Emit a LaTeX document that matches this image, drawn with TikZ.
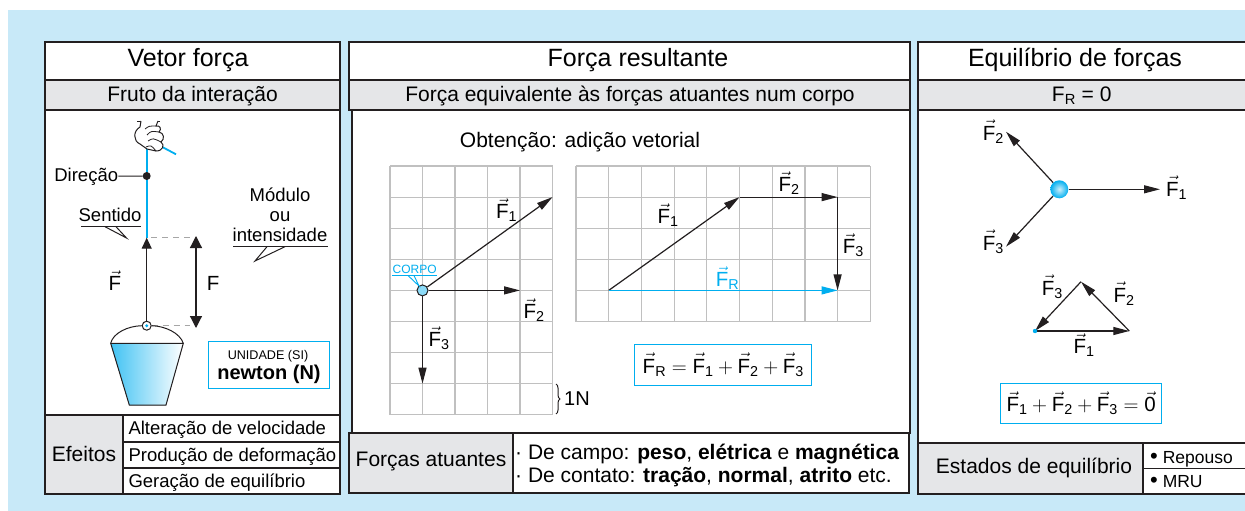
\documentclass[tikz,border=0pt]{standalone}
\usepackage{amsmath}
\usepackage{fontspec}
\setmainfont{Liberation Sans}
\usetikzlibrary{arrows.meta,decorations.pathreplacing}

\definecolor{fundo}{RGB}{200,233,248}
\definecolor{ciano}{RGB}{0,174,239}
\definecolor{cinza}{RGB}{229,230,232}
\definecolor{grade}{RGB}{192,192,192}
\definecolor{traco}{RGB}{35,31,32}

\newcommand{\vF}[1]{$\vec{\text{F}}_{\text{#1}}$}

\tikzset{
	moldura/.style={draw=traco, line width=1.3pt},
	titulo/.style={font=\fontsize{25}{30}\selectfont, anchor=base},
	faixa/.style={font=\fontsize{21}{25}\selectfont},
	rotulo/.style={font=\fontsize{18.5}{20}\selectfont},
	vrot/.style={font=\fontsize{20.5}{24}\selectfont, anchor=base west, inner sep=0pt},
	vetor/.style={draw=traco, line width=1.2pt, -{Triangle[length=16pt,width=8pt]}},
	linhagrade/.style={draw=grade, line width=1.2pt},
	tracejado/.style={draw=gray!70, line width=1pt, dash pattern=on 6pt off 5pt},
	caixa/.style={draw=ciano, line width=1.3pt, inner sep=0pt},
}

\begin{document}
\begin{tikzpicture}[x=1pt, y=-1pt]
	\useasboundingbox (0,0) rectangle (1245,511);
	\fill[fundo] (8,10) rectangle (1245,511);

	\draw[moldura, fill=white] (45,42) rectangle (340,80);
	\draw[moldura, fill=cinza] (45,80) rectangle (340,110);
	\draw[moldura, fill=white] (45,110) rectangle (340,415);
	\draw[moldura, fill=cinza] (45,415) rectangle (123,494);
	\draw[moldura, fill=white] (123,415) rectangle (340,442);
	\draw[moldura, fill=white] (123,442) rectangle (340,468);
	\draw[moldura, fill=white] (123,468) rectangle (340,494);
	\node[titulo] (tvetor) at (188,66.7) {Vetor força};
	\node[faixa, anchor=base] (fruto) at (192.5,101.7) {Fruto da interação};

	\draw[ciano, line width=1.8pt] (146.7,140) -- (146.7,237.7);
	\draw[ciano, line width=1.8pt] (161.7,146.7) -- (176,154.3);
	\draw[traco, line width=1pt] (137,121) -- (160,121);
	\draw[traco, line width=1pt, fill=white] (141,121) -- (140,127) .. controls (133,131) and (133,141) .. (140,144) -- (147,149) -- (156,151) .. controls (163,151) and (165,145) .. (161,142) .. controls (165,139) and (164,133) .. (159,132) .. controls (162,129) and (160,125) .. (156,126) -- (158,121);
	\draw[traco, line width=0.8pt] (147,135) .. controls (151,131) .. (159,132);
	\draw[traco, line width=0.8pt] (148,141) .. controls (153,138) .. (161,142);
	\draw[traco, line width=0.8pt] (146,147) .. controls (151,145) .. (156,151);
	\draw[traco, line width=0.8pt] (145,129) .. controls (149,126) .. (156,126);

	\node[circle, fill=traco, inner sep=0pt, minimum size=8pt] (ponto) at (146.7,176) {};
	\node[rotulo, anchor=base east, inner sep=0pt] (direcao) at (118.3,181) {Direção};
	\draw[traco, line width=1pt] (direcao) -- (ponto);

	\node[rotulo, anchor=base] (sentido) at (110,221.7) {Sentido};
	\draw[traco, line width=1pt] (81,226.7) -- (141,226.7);
	\draw[traco, line width=1pt] (105,226.7) -- (126.5,238) -- (116,226.7);

	\node[rotulo, align=center, anchor=south, inner sep=0pt] (modulo) at (280,241.7) {Módulo\\ou\\intensidade};
	\draw[traco, line width=1pt] (233,246.7) -- (328,246.7);
	\draw[traco, line width=1pt] (267,246.7) -- (255,261) -- (285,246.7);

	\coordinate (topo) at (146.7,237.7);
	\node[circle, draw=traco, line width=1pt, fill=white, inner sep=0pt, minimum size=9pt] (argola) at (146.7,325.7) {};
	\fill[ciano] (argola) circle (1.6pt);
	\draw[traco, line width=1.2pt, -{Triangle[length=11pt,width=10pt]}] (argola) -- (topo);
	\draw[tracejado] (151,237.7) -- (190,237.7);
	\draw[tracejado] (argola) -- (190,325.7);
	\coordinate (mtopo) at (196,236);
	\coordinate (mbase) at (196,328);
	\draw[traco, line width=1.2pt, {Triangle[length=12pt,width=12pt]}-{Triangle[length=12pt,width=12pt]}] (mtopo) -- (mbase);
	\node[vrot] (fvet) at (108.3,290.7) {$\vec{\text{F}}$};
	\node[vrot] (fmod) at (206.7,290.7) {F};

	\fill[left color=ciano!75, right color=white] (110.7,343.3) -- (183.3,343.3) -- (166,405) -- (129.3,405) -- cycle;
	\draw[traco, line width=1pt] (110.7,343.3) -- (183.3,343.3) -- (166,405) -- (129.3,405) -- cycle;
	\draw[traco, line width=1pt] (110.7,343.3) .. controls (113,333) and (128,326) .. (argola.west);
	\draw[traco, line width=1pt] (argola.east) .. controls (165,326) and (180,333) .. (183.3,343.3);

	\node[caixa, minimum width=121pt, minimum height=46.6pt] (unidade) at (268.8,365) {};
	\node[font=\fontsize{12.6}{15}\selectfont, anchor=base] (si) at (268,359) {UNIDADE (SI)};
	\node[font=\fontsize{20}{24}\selectfont\bfseries, anchor=base] (newton) at (269,379.3) {newton (N)};

	\node[faixa, anchor=base] (efeitos) at (84,461.7) {Efeitos};
	\node[rotulo, anchor=base west, inner sep=0pt] (ef1) at (128.3,434) {Alteração de velocidade};
	\node[rotulo, anchor=base west, inner sep=0pt] (ef2) at (128.3,461) {Produção de deformação};
	\node[rotulo, anchor=base west, inner sep=0pt] (ef3) at (128.3,487) {Geração de equilíbrio};

	\draw[moldura, fill=white] (349,42) rectangle (910,80);
	\draw[moldura, fill=cinza] (349,80) rectangle (910,110);
	\draw[moldura, fill=white] (352,110) rectangle (910,433);
	\draw[moldura, fill=cinza] (349,433) rectangle (513,493);
	\draw[moldura, fill=white] (513,433) rectangle (909,493);
	\node[titulo] (tresult) at (638,66.7) {Força resultante};
	\node[faixa, anchor=base] (equiv) at (630,101.7) {Força equivalente às forças atuantes num corpo};
	\node[faixa, anchor=base] (obtencao) at (580,147.7) {Obtenção: adição vetorial};

	\foreach \i in {0,...,5}
		\draw[linhagrade] (390+\i*32.5,166) -- (390+\i*32.5,414.8);
	\foreach \j in {0,...,8}
		\draw[linhagrade] (390,166+\j*31.1) -- (552.5,166+\j*31.1);
	\foreach \i in {0,...,9}
		\draw[linhagrade] (576+\i*32.7,166) -- (576+\i*32.7,321.5);
	\foreach \j in {0,...,5}
		\draw[linhagrade] (576,166+\j*31.1) -- (870.3,166+\j*31.1);

	\node[circle, draw=traco, line width=1pt, fill=ciano!45, inner sep=0pt, minimum size=11pt] (corpo) at (422.5,290.4) {};
	\coordinate (a1) at (552.5,197.1);
	\coordinate (a2) at (520,290.4);
	\coordinate (a3) at (422.5,383.7);
	\draw[vetor] (corpo) -- (a1);
	\draw[vetor] (corpo) -- (a2);
	\draw[vetor] (corpo) -- (a3);
	\node[font=\fontsize{12}{14}\selectfont, text=ciano, anchor=base, inner sep=0pt] (rcorpo) at (414.7,273.3) {CORPO};
	\draw[ciano, line width=0.9pt] (392,275.5) -- (437,275.5);
	\draw[ciano, line width=0.9pt] (408,275.5) -- (419,286) -- (414,275.5);
	\node[vrot] (la1) at (496,218.3) {\vF{1}};
	\node[vrot] (la2) at (523.3,318.3) {\vF{2}};
	\node[vrot] (la3) at (428.3,346.7) {\vF{3}};
	\draw[traco, line width=1pt, decorate, decoration={brace, amplitude=4pt}] (556,384) -- (556,414);
	\node[font=\fontsize{20}{24}\selectfont, anchor=base west, inner sep=0pt] (umn) at (564,405) {1N};

	\coordinate (b0) at (608.7,290.4);
	\coordinate (b1) at (739.5,197.1);
	\coordinate (b2) at (837.6,197.1);
	\coordinate (b3) at (837.6,290.4);
	\draw[vetor] (b0) -- (b1);
	\draw[vetor] (b1) -- (b2);
	\draw[vetor] (b2) -- (b3);
	\draw[vetor, draw=ciano] (b0) -- (b3);
	\node[vrot] (lb1) at (657.3,223.3) {\vF{1}};
	\node[vrot] (lb2) at (778.3,191.7) {\vF{2}};
	\node[vrot] (lb3) at (842.7,253.3) {\vF{3}};
	\node[vrot, text=ciano] (lbr) at (715.7,286.7) {\vF{R}};
	\node[caixa, minimum width=177pt, minimum height=41pt, font=\fontsize{20.5}{24}\selectfont] (soma) at (723.3,364.7) {$\vec{\text{F}}_{\text{R}} = \vec{\text{F}}_{\text{1}} + \vec{\text{F}}_{\text{2}} + \vec{\text{F}}_{\text{3}}$};

	\node[faixa, anchor=base] (atuantes) at (431,466.7) {Forças atuantes};
	\node[faixa, anchor=base west, inner sep=0pt] (campo) at (515,459) {· De campo: \textbf{peso}, \textbf{elétrica} e \textbf{magnética}};
	\node[faixa, anchor=base west, inner sep=0pt] (contato) at (515,482) {· De contato: \textbf{tração}, \textbf{normal}, \textbf{atrito} etc.};

	\draw[moldura, fill=white] (918,42) rectangle (1260,80);
	\draw[moldura, fill=cinza] (918,80) rectangle (1260,110);
	\draw[moldura, fill=white] (918,110) rectangle (1260,443);
	\draw[moldura, fill=cinza] (918,443) rectangle (1143,494);
	\draw[moldura, fill=white] (1143,443) rectangle (1260,468.3);
	\draw[moldura, fill=white] (1143,468.3) rectangle (1260,494);
	\node[titulo] (tequil) at (1075,66.7) {Equilíbrio de forças};
	\node[faixa, anchor=base] (fr0) at (1081.7,101.7) {F$_{\text{R}}$ = 0};

	\node[circle, shading=radial, inner color=ciano!20, outer color=ciano, inner sep=0pt, minimum size=18pt] (bola) at (1059.3,189.3) {};
	\coordinate (c1) at (1160,189.3);
	\coordinate (c2) at (1006,131.7);
	\coordinate (c3) at (1006,246.7);
	\draw[vetor] (bola) -- (c1);
	\draw[vetor] (bola) -- (c2);
	\draw[vetor] (bola) -- (c3);
	\node[vrot] (lc1) at (1166,196) {\vF{1}};
	\node[vrot] (lc2) at (982.7,140) {\vF{2}};
	\node[vrot] (lc3) at (982.7,250) {\vF{3}};

	\coordinate (ta) at (1035,331);
	\coordinate (tb) at (1129.3,331);
	\coordinate (tc) at (1081,281.7);
	\draw[vetor] (ta) -- (tb);
	\draw[vetor] (tb) -- (tc);
	\draw[vetor] (tc) -- (ta);
	\fill[ciano] (ta) circle (2.2pt);
	\node[vrot] (ld1) at (1073.3,353.3) {\vF{1}};
	\node[vrot] (ld2) at (1113.3,302) {\vF{2}};
	\node[vrot] (ld3) at (1041.7,295) {\vF{3}};
	\node[caixa, minimum width=161pt, minimum height=40pt, font=\fontsize{20.5}{24}\selectfont] (nulo) at (1081.2,403.3) {$\vec{\text{F}}_{\text{1}} + \vec{\text{F}}_{\text{2}} + \vec{\text{F}}_{\text{3}} = \vec{\text{0}}$};

	\node[faixa, anchor=base] (estados) at (1034,473.3) {Estados de equilíbrio};
	\node[font=\fontsize{17.5}{20}\selectfont, anchor=base west, inner sep=0pt] (repouso) at (1150,463.3) {{\fontsize{22}{22}\selectfont •} Repouso};
	\node[font=\fontsize{17.5}{20}\selectfont, anchor=base west, inner sep=0pt] (mru) at (1150,487.3) {{\fontsize{22}{22}\selectfont •} MRU};
\end{tikzpicture}
\end{document}
